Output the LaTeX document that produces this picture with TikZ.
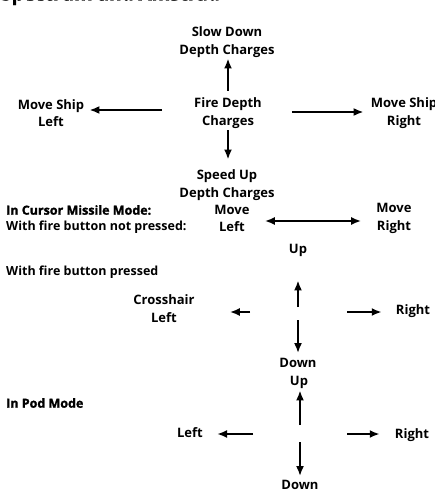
\documentclass[tikz,border=0pt]{standalone}
\usepackage{fontspec}
\setmainfont{Open Sans}
\usepackage{tikz}
\usetikzlibrary{arrows.meta,positioning,calc}

\newcommand{\heavy}{\bfseries\addfontfeature{FakeBold=1.5}}

\begin{document}
\begin{tikzpicture}[
  x=1pt, y=-1pt,
  lbl/.style={inner sep=0pt, align=center, font=\fontsize{13}{17.5}\selectfont\bfseries},
  txt/.style={inner sep=0pt, anchor=west, font=\fontsize{12.5}{16}\selectfont\bfseries},
  headtxt/.style={inner sep=0pt, anchor=west, font=\fontsize{12.5}{16}\selectfont\heavy},
  arrow/.style={-{Latex[length=10pt,width=8pt]}, line width=2.3pt},
  dblarrow/.style={{Latex[length=10pt,width=8pt]}-{Latex[length=10pt,width=8pt]}, line width=2pt}
]
\useasboundingbox (0,0) rectangle (435,492);

% title, cut by the page edge
\node[inner sep=0pt, anchor=base west, font=\fontsize{19}{22}\selectfont\heavy] (title) at (1,0.5) {Spectrum and Amstrad};

% depth charges
\node[lbl] (slow) at (227,42) {Slow Down\\Depth Charges};
\node[lbl] (fire) at (228,113) {Fire Depth\\Charges};
\node[lbl] (shipL) at (51,113) {Move Ship\\Left};
\node[lbl] (shipR) at (404,113) {Move Ship\\Right};
\node[lbl] (speed) at (227,185) {Speed Up\\Depth Charges};

\draw[arrow, shorten <=7pt, shorten >=1pt] (fire) -- (fire |- slow.south);
\draw[arrow, shorten <=32pt, shorten >=5pt] ([yshift=3pt]fire.west) -- ([yshift=3pt]shipL.east);
\draw[arrow, shorten <=30pt, shorten >=7pt] ([yshift=1pt]fire.east) -- ([yshift=1pt]shipR.west);
\draw[arrow, shorten <=2pt, shorten >=10pt] (fire.south) -- (fire.south |- speed.north);

% cursor missile mode
\node[headtxt] (cursorhd) at (6,210) {In Cursor Missile Mode:};
\node[txt] (notpressed) at (6,227) {With fire button not pressed:};
\node[lbl] (mvL) at (232,218.5) {Move\\Left};
\node[lbl] (mvR) at (394,218.5) {Move\\Right};
\draw[dblarrow, shorten <=15pt, shorten >=15pt] ([yshift=-2.5pt]mvL.east) -- ([yshift=-2.5pt]mvR.west);

\node[txt] (pressed) at (6,272) {With fire button pressed};
\coordinate (chC) at (298,312);
\node[lbl] (chUp) at (298,250) {Up};
\node[lbl] (chL) at (164,308.5) {Crosshair\\Left};
\node[lbl] (chR) at (413,311) {Right};
\node[lbl] (chDn) at (298,363) {Down};

\draw[arrow, shorten <=5pt, shorten >=24pt] (chC) -- (chUp.south);
\draw[arrow, shorten <=48pt, shorten >=35pt] (chC) -- (chL.east |- chC);
\draw[arrow, shorten <=49pt, shorten >=14pt] (chC) -- (chR.west |- chC);
\draw[arrow, shorten <=8pt, shorten >=5pt] (chC) -- (chDn.north);

% pod mode
\node[headtxt] (podhd) at (6,403) {In Pod Mode};
\coordinate (podC) at (300,434);
\node[lbl] (podUp) at (299,382) {Up};
\node[lbl] (podL) at (190,433) {Left};
\node[lbl] (podR) at (412,435) {Right};
\node[lbl] (podDn) at (300,485) {Down};

\draw[arrow, shorten <=9pt, shorten >=2pt] (podC) -- (podC |- podUp.south);
\draw[arrow, shorten <=47pt, shorten >=14pt] (podC) -- (podL.east |- podC);
\draw[arrow, shorten <=47pt, shorten >=15pt] (podC) -- (podR.west |- podC);
\draw[arrow, shorten <=8pt, shorten >=4pt] (podC) -- (podC |- podDn.north);
\end{tikzpicture}
\end{document}
